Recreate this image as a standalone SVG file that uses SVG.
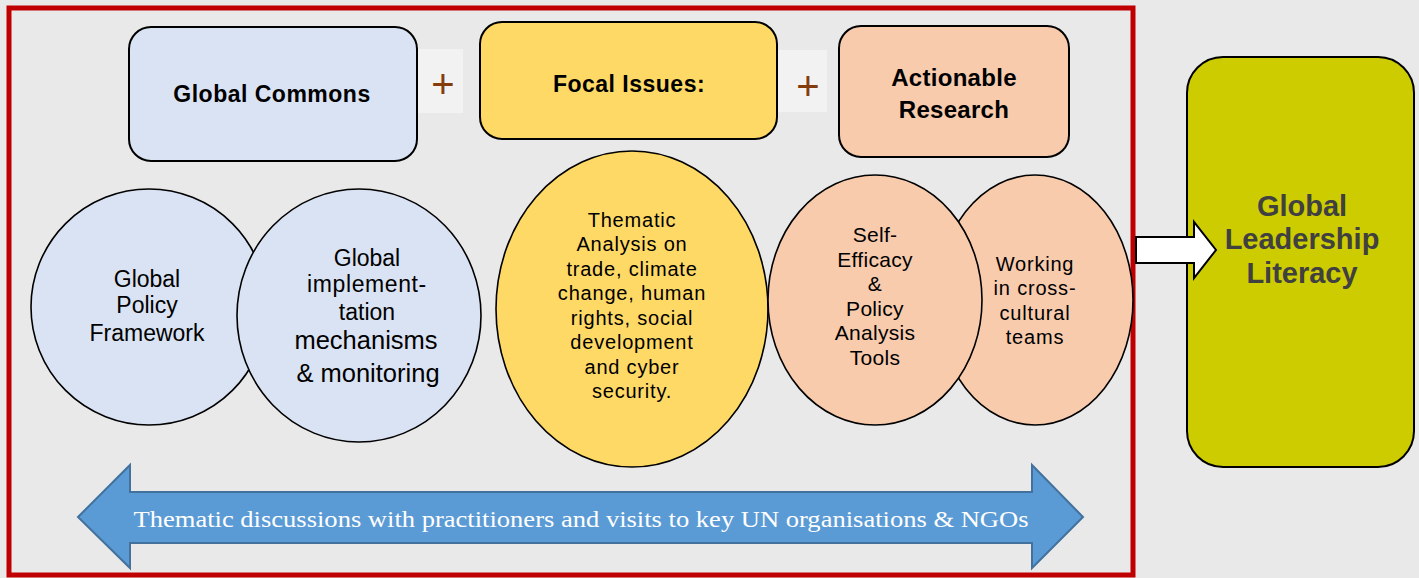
<svg xmlns="http://www.w3.org/2000/svg" width="1419" height="578" viewBox="0 0 1419 578">
<style>
.box{stroke:#000;stroke-width:2}
.ell{stroke:#000;stroke-width:1.6}
.t{font-family:"Liberation Sans",Arial,sans-serif;fill:#000;text-anchor:middle}
.b{font-weight:bold}
.plus{font-family:"Liberation Sans",Arial,sans-serif;fill:#843c0c;font-size:40px;text-anchor:middle}
</style>
<rect x="0" y="0" width="1419" height="578" fill="#e9e9e9"/>
<rect id="frame" x="9" y="8" width="1124" height="567" fill="#e9e9e9" stroke="#c00000" stroke-width="5"/>

<g id="plus1"><rect x="417" y="49" width="46" height="64" fill="#f2f2f2"/><text class="plus" x="443" y="98">+</text></g>
<g id="plus2"><rect x="777" y="50" width="50" height="62" fill="#f2f2f2"/><text class="plus" x="808" y="100">+</text></g>

<g id="global-commons"><rect class="box" x="129" y="27" width="288" height="134" rx="22" fill="#dae3f3"/>
<text class="t b" x="272" y="102" font-size="23" letter-spacing="0.5">Global Commons</text></g>
<g id="focal-issues"><rect class="box" x="480" y="22" width="297" height="117" rx="22" fill="#ffd966"/>
<text class="t b" x="629" y="92" font-size="23" letter-spacing="0.5">Focal Issues:</text></g>
<g id="actionable-research"><rect class="box" x="839" y="26" width="230" height="131" rx="22" fill="#f8cbad"/>
<text class="t b" x="954" y="86" font-size="24" letter-spacing="0.3">Actionable</text>
<text class="t b" x="954" y="118" font-size="24" letter-spacing="0.3">Research</text></g>

<g id="policy-framework"><ellipse class="ell" cx="149" cy="307" rx="118" ry="118" fill="#dae3f3"/>
<text class="t" x="147" y="287" font-size="23">Global</text>
<text class="t" x="147" y="313" font-size="23">Policy</text>
<text class="t" x="147" y="341" font-size="23">Framework</text></g>
<g id="implementation"><ellipse class="ell" cx="359" cy="315.5" rx="122" ry="126.5" fill="#dae3f3"/>
<text class="t" x="367" y="266" font-size="23">Global</text>
<text class="t" x="367" y="292" font-size="23" letter-spacing="0.6">implement-</text>
<text class="t" x="367" y="320" font-size="23">tation</text>
<text class="t" x="366" y="349" font-size="25.5">mechanisms</text>
<text class="t" x="368" y="382" font-size="25.5">&amp; monitoring</text></g>

<g id="thematic-analysis"><ellipse class="ell" cx="632" cy="309" rx="136" ry="158" fill="#ffd966"/>
<g class="t" font-size="20" letter-spacing="0.8">
<text x="632" y="227">Thematic</text>
<text x="632" y="251">Analysis on</text>
<text x="632" y="276">trade, climate</text>
<text x="632" y="300">change, human</text>
<text x="632" y="325">rights, social</text>
<text x="632" y="349">development</text>
<text x="632" y="374">and cyber</text>
<text x="632" y="398">security.</text></g></g>

<g id="working-teams"><ellipse class="ell" cx="1035" cy="300" rx="98" ry="125" fill="#f8cbad"/>
<g class="t" font-size="20" letter-spacing="0.8">
<text x="1035" y="271">Working</text>
<text x="1035" y="295">in cross-</text>
<text x="1035" y="320">cultural</text>
<text x="1035" y="344">teams</text></g></g>
<g id="self-efficacy"><ellipse class="ell" cx="875" cy="300" rx="107" ry="125" fill="#f8cbad"/>
<g class="t" font-size="21" letter-spacing="0.3">
<text x="875" y="242">Self-</text>
<text x="875" y="267">Efficacy</text>
<text x="875" y="291">&amp;</text>
<text x="875" y="316">Policy</text>
<text x="875" y="340">Analysis</text>
<text x="875" y="365">Tools</text></g></g>

<g id="global-leadership-literacy"><rect class="box" x="1187" y="57" width="227" height="410" rx="36" fill="#cccc00"/>
<g class="t b" font-size="29" style="fill:#404040">
<text x="1302" y="216">Global</text>
<text x="1302" y="249">Leadership</text>
<text x="1302" y="283">Literacy</text></g></g>

<g id="connectors">
<path d="M1136 237 H1194 V222 L1216 250 L1194 278 V263 H1136 Z" fill="#fff" stroke="#000" stroke-width="2"/>
<path d="M78 517 L130 465 V492 H1032 V465 L1083 517 L1032 568 V543 H130 V568 Z" fill="#5b9bd5" stroke="#41719c" stroke-width="2"/>
<text x="581" y="527" font-family="'Liberation Serif','Times New Roman',serif" font-size="24" fill="#fff" text-anchor="middle" textLength="895" lengthAdjust="spacingAndGlyphs">Thematic discussions with practitioners and visits to key UN organisations &amp; NGOs</text>
</g>
</svg>
